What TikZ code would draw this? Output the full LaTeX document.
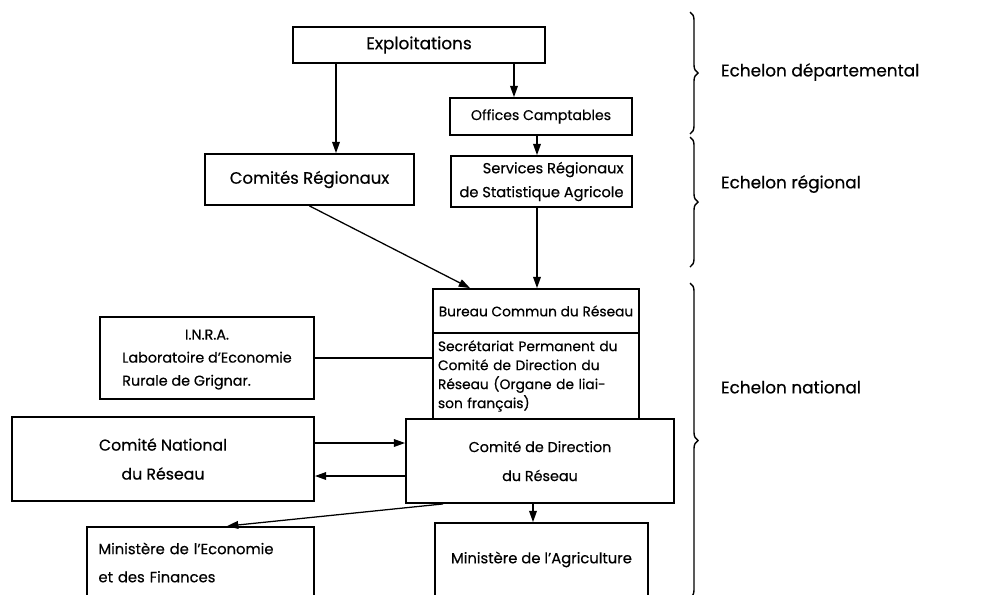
\documentclass[tikz,border=0pt]{standalone}
\usepackage{fontspec}
\setmainfont{Poppins}[FakeBold=0.5]
\usetikzlibrary{arrows.meta,decorations.pathreplacing}

\begin{document}
\begin{tikzpicture}[x=0.025cm,y=-0.025cm,
    box/.style={draw,line width=1.3pt,inner sep=0pt,font=\fontsize{10.5}{13}\selectfont},
    arr/.style={line width=0.9pt,-{Triangle[length=8pt,width=5.5pt]}},
    brc/.style={decorate,decoration={brace,amplitude=0.2cm},line width=1pt},
    lbl/.style={anchor=west,font=\fontsize{12}{15}\selectfont}]
    \useasboundingbox (0,0) rectangle (999,594);

    \node[box,minimum width=6.3cm,minimum height=0.9cm,font=\fontsize{12}{14}\selectfont] (expl) at (419,45) {Exploitations};
    \node[box,minimum width=4.55cm,minimum height=0.925cm,font=\fontsize{10}{12}\selectfont] (offices) at (541,116.5) {Offices Camptables};
    \node[box,minimum width=5.225cm,minimum height=1.275cm,font=\fontsize{11.7}{14}\selectfont] (comreg) at (309.5,179.5) {Comités Régionaux};
    \node[box,minimum width=4.525cm,minimum height=1.275cm,align=right,font=\fontsize{10.4}{17}\selectfont] (servreg) at (541.5,181.5) {Services Régionaux\\de Statistique Agricole};
    \node[box,minimum width=5.15cm,minimum height=1.1cm,font=\fontsize{9.8}{12}\selectfont] (bureau) at (536,311) {Bureau Commun du Réseau};
    \node[box,minimum width=5.15cm,minimum height=2.15cm,text width=4.9cm,align=left,font=\fontsize{9.8}{13.5}\selectfont] (secr) at (536,376) {Secrétariat Permanent du Comité de Direction du Réseau (Organe de liai-\\son français)};
    \node[box,minimum width=6.7cm,minimum height=2.1cm,align=center,font=\fontsize{10.2}{20.6}\selectfont] (direction) at (540,461) {Comité de Direction\\du Réseau};
    \node[box,minimum width=5.325cm,minimum height=1.825cm] (agri) at (541.5,559.5) {Ministère de l'Agriculture};
    \node[box,minimum width=5.35cm,minimum height=2.05cm,font=\fontsize{10.2}{16.4}\selectfont] (inra) at (207,358) {\begin{tabular}{@{}l@{}}\multicolumn{1}{@{}c@{}}{I.N.R.A.}\\Laboratoire d'Economie\\Rurale de Grignar.\end{tabular}};
    \node[box,minimum width=7.55cm,minimum height=2.1cm,align=center,font=\fontsize{11.2}{20.6}\selectfont] (national) at (163,459) {Comité National\\du Réseau};
    \node[box,minimum width=5.675cm,minimum height=1.775cm,text width=5.1cm,align=left,font=\fontsize{10.5}{20}\selectfont] (econ) at (200.5,562.5) {Ministère de l'Economie\\et des Finances};

    \draw[arr] (336,0 |- expl.south) -- (336,0 |- comreg.north);
    \draw[arr] (514,0 |- expl.south) -- (514,0 |- offices.north);
    \draw[arr] (537,0 |- offices.south) -- (537,0 |- servreg.north);
    \draw[arr] (537,0 |- servreg.south) -- (537,0 |- bureau.north);
    \draw[arr] (comreg.south) -- (470,0 |- bureau.north);
    \draw[line width=0.9pt] (inra.east) -- (inra.east -| secr.west);
    \draw[arr] (national.east |- 0,443) -- (direction.west |- 0,443);
    \draw[arr] (direction.west |- 0,476) -- (national.east |- 0,476);
    \draw[arr] (443,0 |- direction.south) -- (227,0 |- econ.north);
    \draw[arr] (533,0 |- direction.south) -- (533,0 |- agri.north);

    \draw[brc] (690,12) -- (690,134);
    \draw[brc] (690,137) -- (690,267);
    \draw[brc] (690,283) -- (690,598);
    \node[lbl] (dep) at (716,72) {Echelon départemental};
    \node[lbl] (reg) at (716,184) {Echelon régional};
    \node[lbl] (nat) at (716,387) {Echelon national};
\end{tikzpicture}
\end{document}
